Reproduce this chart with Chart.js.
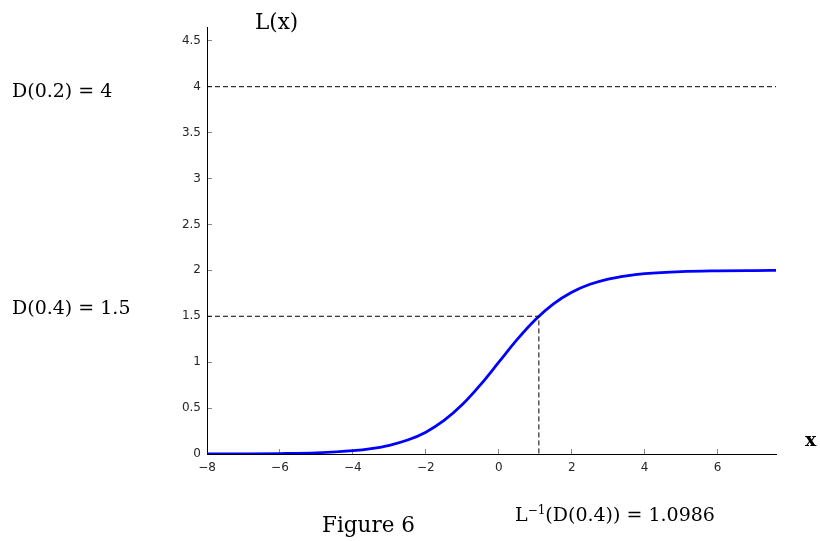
<!DOCTYPE html>
<html>
<head>
<meta charset="utf-8">
<script src="https://cdn.jsdelivr.net/npm/chart.js@4.4.1/dist/chart.umd.min.js"></script>
<style>
  body { margin: 0; background: #fff; }
  #wrap { position: relative; width: 820px; height: 541px; }
  .lbl { position: absolute; font-family: "DejaVu Serif", serif; font-size: 19px; line-height: 1; color: #000; white-space: nowrap; }
  .lbl sup { font-size: 12px; vertical-align: 7px; line-height: 0; }
</style>
</head>
<body>
<div id="wrap">
  <canvas id="chLogistic" width="820" height="541"></canvas>
  <div class="lbl" style="left:255px; top:11px; font-size:21.5px;">L(x)</div>
  <div class="lbl" style="left:12px; top:81px;">D(0.2) = 4</div>
  <div class="lbl" style="left:12px; top:298px;">D(0.4) = 1.5</div>
  <div class="lbl" style="left:805px; top:430px; font-weight:bold;">x</div>
  <div class="lbl" style="left:515px; top:505px;">L<sup>&minus;1</sup>(D(0.4)) = 1.0986</div>
  <div class="lbl" style="left:322px; top:514px; font-size:21.5px;">Figure 6</div>
</div>
<script>
// curve L(x), values
var xVals = [-8, -7, -6, -5, -4, -3.5, -3, -2.5, -2, -1.5, -1, -0.5, 0, 0.5, 1, 1.5, 2, 2.5, 3, 3.5, 4, 5, 6, 7, 7.6];
var lVals = [0.001, 0.002, 0.005, 0.013, 0.036, 0.059, 0.095, 0.152, 0.238, 0.365, 0.538, 0.755, 1.0, 1.245, 1.462, 1.635, 1.762, 1.848, 1.905, 1.941, 1.964, 1.987, 1.995, 1.998, 1.999];

// dashed guide levels
var levelTop = 4;      // D(0.2)
var levelMid = 1.5;    // D(0.4)
var xInv = 1.0986;     // L^-1(D(0.4))

// axis range / ticks
var xMin = -8, xMax = 7.6, xStep = 2;
var yMin = 0, yMax = 4.65, yStep = 0.5;

var curve = xVals.map(function (x, i) { return { x: x, y: lVals[i] }; });

var tickFont = { family: 'DejaVu Sans', size: 12 };

var ctx = document.getElementById('chLogistic');
new Chart(ctx, {
    type: 'line',
    data: {
        datasets: [
            {
                data: [{ x: xMin, y: levelTop }, { x: xMax, y: levelTop }],
                borderColor: '#000',
                borderWidth: 1,
                borderDash: [5, 3],
                pointRadius: 0
            },
            {
                data: [{ x: xMin, y: levelMid }, { x: xInv, y: levelMid }, { x: xInv, y: 0 }],
                borderColor: '#000',
                borderWidth: 1,
                borderDash: [5, 3],
                pointRadius: 0
            },
            {
                data: curve,
                borderColor: '#0000ff',
                borderWidth: 2.8,
                pointRadius: 0,
                cubicInterpolationMode: 'monotone'
            }
        ]
    },
    options: {
        responsive: false,
        animation: false,
        devicePixelRatio: 1,
        layout: { padding: { top: 27, right: 44, left: 0, bottom: 0 } },
        plugins: { legend: { display: false }, tooltip: { enabled: false } },
        scales: {
            x: {
                type: 'linear',
                min: xMin,
                max: xMax,
                border: { color: '#000', width: 1 },
                grid: { drawOnChartArea: false, tickLength: -5, color: '#888' },
                ticks: {
                    stepSize: xStep,
                    includeBounds: false,
                    padding: 12,
                    color: '#262626',
                    font: tickFont,
                    maxRotation: 0,
                    callback: function (v) { return String(v).replace('-', '\u2212'); }
                },
                afterFit: function (scale) { scale.height = 87; }
            },
            y: {
                type: 'linear',
                min: yMin,
                max: yMax,
                border: { color: '#000', width: 1 },
                grid: { drawOnChartArea: false, tickLength: -5, color: '#888' },
                ticks: {
                    stepSize: yStep,
                    includeBounds: false,
                    padding: 11,
                    color: '#262626',
                    font: tickFont,
                    callback: function (v) { return String(v); }
                },
                afterFit: function (scale) { scale.width = 207; }
            }
        }
    }
});
</script>
</body>
</html>
